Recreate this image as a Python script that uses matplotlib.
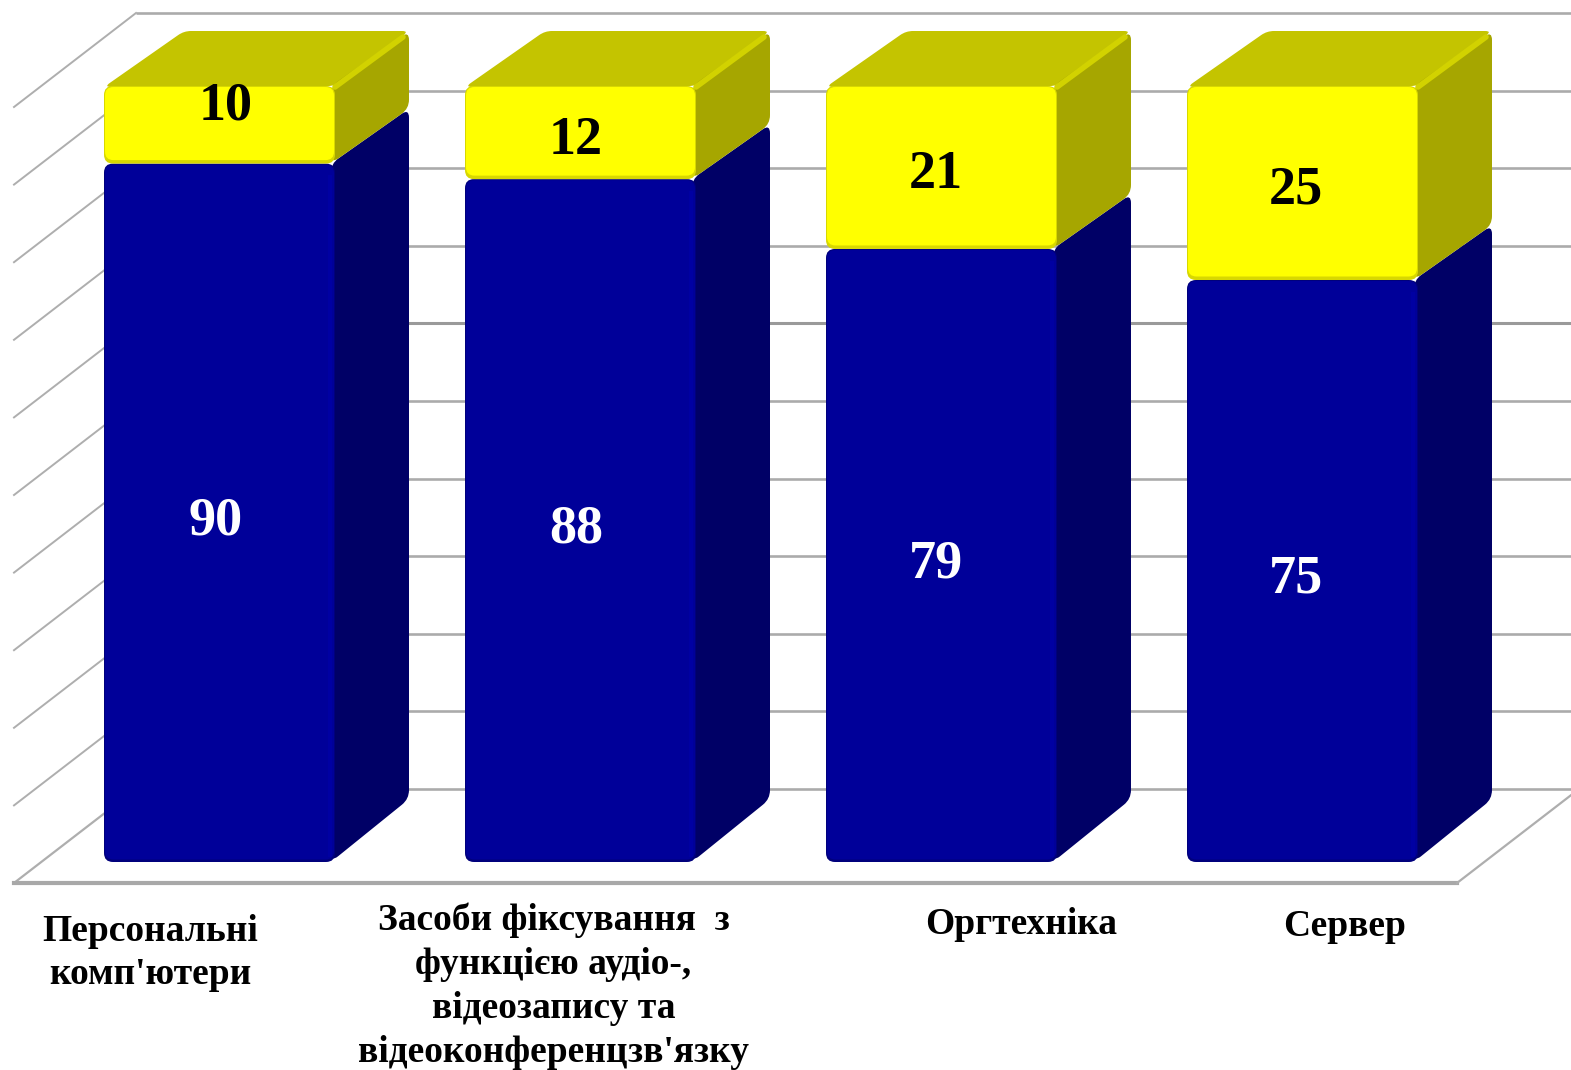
import matplotlib
matplotlib.use("Agg")
import matplotlib.pyplot as plt
from matplotlib.patches import FancyBboxPatch, PathPatch
from matplotlib.path import Path
import numpy as np

categories = [
    "Персональні\nкомп'ютери",
    "Засоби фіксування  з\nфункцією аудіо-,\nвідеозапису та\nвідеоконференцзв'язку",
    "Оргтехніка",
    "Сервер",
]
blue_values = [90, 88, 79, 75]
yellow_values = [10, 12, 21, 25]
grid_values = [0, 10, 20, 30, 40, 50, 60, 70, 80, 90, 100]

# pixels per unit, the picture is 1571x1070
UX = 361.0
UY = 7.76
X0 = 219.5
Y0 = 862.0
BAR_W = 231 / UX
DX = 74 / UX
DY = 55 / UY
DY_FLOOR = 63 / UY
R = 9

fig = plt.figure(figsize=(15.71, 10.70), dpi=100)
ax = fig.add_axes([0, 0, 1, 1])
ax.set_xlim(-X0 / UX, (1571 - X0) / UX)
ax.set_ylim(-(1070 - Y0) / UY, Y0 / UY)
ax.axis("off")
plt.rcParams["font.family"] = ["Liberation Serif", "DejaVu Serif"]


def rounded(points, r=R):
    """Многоугольник со скруглёнными углами."""
    pts = np.array(points, dtype=float) * [UX, UY]
    verts, codes = [], []
    n = len(pts)
    for i in range(n):
        p, a, b = pts[i], pts[i - 1], pts[(i + 1) % n]
        u = (a - p) / np.linalg.norm(a - p)
        v = (b - p) / np.linalg.norm(b - p)
        verts += [p + u * r, p, p + v * r]
        codes += [Path.LINETO, Path.CURVE3, Path.CURVE3]
    codes[0] = Path.MOVETO
    verts.append(verts[0])
    codes.append(Path.CLOSEPOLY)
    return Path(np.array(verts) / [UX, UY], codes)


def front(x, low, high, color, inset=0.0, lift=0.0):
    ix = inset / UX
    iy = inset / UY
    rs = (R - inset * 0.5) / UX
    box = FancyBboxPatch((x + ix, low + iy + lift / UY), BAR_W - 2 * ix, high - low - 2 * iy - lift / UY,
                         boxstyle=f"round,pad=0,rounding_size={rs}",
                         mutation_aspect=UX / UY, fc=color, ec="none", zorder=5)
    ax.add_patch(box)


def side(x, low, high, color, low_dy=DY, zorder=4):
    x1 = x + BAR_W
    pts = [(x1 - 4 / UX, low), (x1 + DX, low + low_dy), (x1 + DX, high + DY), (x1 - 4 / UX, high)]
    ax.add_patch(PathPatch(rounded(pts), fc=color, ec="none", zorder=zorder))


# стенка и пол
wall_x = (136 - X0) / UX
wall_dx = 122 / UX
wall_dy = 94 / UY
floor_shift = -21 / UY
for v in grid_values:
    back = v + floor_shift + wall_dy
    dark = v == 60
    ax.plot([wall_x, 1571 / UX], [back, back], color="#9a9a9a" if dark else "#ababab",
            lw=1.9 if not dark else 2.2, zorder=1, solid_capstyle="butt")
    if v > 0:
        ax.plot([wall_x - wall_dx, wall_x], [v + floor_shift, back], color="#aeaeae", lw=1.4, zorder=1)
front_x = (1457 - X0) / UX
ax.plot([wall_x - wall_dx, wall_x], [floor_shift, floor_shift + wall_dy], color="#aeaeae", lw=1.6, zorder=1)
ax.plot([wall_x - wall_dx, front_x], [floor_shift, floor_shift], color="#a8a8a8", lw=3, zorder=1)
ax.plot([front_x, front_x + wall_dx], [floor_shift, floor_shift + wall_dy], color="#aeaeae", lw=1.6, zorder=1)

nudge = [-4, -4.5, -5.5, -7]
for i, (b, y) in enumerate(zip(blue_values, yellow_values)):
    left = i - BAR_W / 2
    x1 = left + BAR_W
    # синяя часть
    side(left, 0, b, "#000066", low_dy=DY_FLOOR)
    front(left, 0, b, "#00007c")
    front(left, 0, b, "#000099", inset=1.0, lift=1.5)
    ax.plot([x1 - 5 / UX, x1 - 5 / UX], [0.6, b - 1.5], color="#0000a2", lw=3, zorder=5.2, solid_capstyle="butt")
    # жёлтая часть
    top = b + y
    roof = [(left, top - 1 / UY), (left + DX + 6 / UX, top + DY), (x1 + DX, top + DY), (x1, top)]
    ax.add_patch(PathPatch(rounded(roof, r=7), fc="#c4c400", ec="none", zorder=4))
    side(left, b, top, "#a6a600", zorder=4.2)
    ax.plot([x1, x1 + DX - 6 / UX], [top - 1 / UY, top + DY - 6 / UY], color="#d2d200", lw=4,
            solid_capstyle="round", zorder=4.4)
    front(left, b, top, "#d8d800")
    front(left, b, top, "#ffff00", inset=1.0, lift=2.5)
    # подписи значений
    cx = i + nudge[i] / UX
    ax.text(cx, b / 2 - 9 / UY, str(b), color="white", fontsize=39, fontweight="bold",
            ha="center", va="center", zorder=6)
    if i == 0:
        ax.text(i + 6 / UX, b + y / 2 + 18 / UY, str(y), color="black", fontsize=39,
                fontweight="bold", ha="center", va="center", zorder=6)
    else:
        ax.text(cx, b + y / 2 - 8 / UY, str(y), color="black", fontsize=39,
                fontweight="bold", ha="center", va="center", zorder=6)

# подписи категорий
label_x = [-69.5, 334, 802, 1125]
label_y = [953, 986.5, 925, 926]
for i, name in enumerate(categories):
    ax.text(label_x[i] / UX, (Y0 - label_y[i]) / UY, name, ha="center", va="center",
            fontsize=27, fontweight="bold", color="black", linespacing=1.33, zorder=6)

fig.savefig("out.png", dpi=100, facecolor="white")
